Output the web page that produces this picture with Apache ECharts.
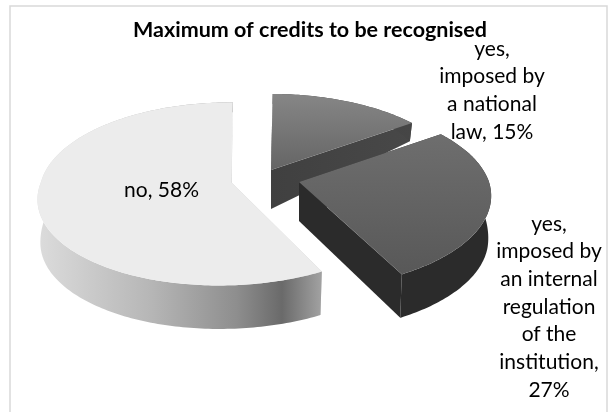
<!DOCTYPE html>
<html>
<head>
<meta charset="utf-8">
<style>html,body{margin:0;padding:0;background:#fff}#chart{width:608px;height:412px}</style>
<script src="https://cdn.jsdelivr.net/npm/echarts@6/dist/echarts.min.js"></script>
</head>
<body>
<div id="chart"></div>
<script>
// Share of institutions by type of cap on recognised credits
const titleText = 'Maximum of credits to be recognised';
const categories = ['yes,\nimposed by\na national\nlaw', 'yes,\nimposed by\nan internal\nregulation\nof the\ninstitution', 'no'];
const values = [15, 27, 58];
const valueSeparators = [', ', ',\n', ', '];

// Pie geometry and per-slice styling: each slice is exploded to its own anchor
const START_ANGLE = 0.6;
const FONT = 'Lato, "Open Sans", sans-serif';
const sliceStyle = [
  { ax: 271, ay: 170, rx: 190, ry: 89, k: 0.17, shear: 0, lx: 492, ly: 90.5,
    top: [[0, '#868686'], [1, '#656565']],
    wall: [[0, '#404040'], [1, '#464646']], cut: [[0, '#404040'], [1, '#484848']] },
  { ax: 299, ay: 182, rx: 190, ry: 90, k: 0.16, shear: 2, lx: 549, ly: 307,
    top: [[0, '#6e6e6e'], [1, '#585858']],
    wall: [[0, '#2b2b2b'], [1, '#2b2b2b']], cut: [[0, '#2b2b2b'], [1, '#2b2b2b']] },
  { ax: 231, ay: 182, rx: 190, ry: 90, k: 0.13, shear: 12, lx: 161.5, ly: 190.5,
    top: [[0, '#ececec'], [1, '#ececec']],
    wall: [[0, '#dcdcdc'], [0.4, '#b6b6b6'], [0.7, '#8e8e8e'], [0.86, '#6a6a6a'], [1, '#a2a2a2']],
    cut: [[0, '#cfcfcf'], [1, '#cfcfcf']] }
];
// Later entries paint over earlier ones
const drawOrder = [2, 0, 1];

function wallHeight(y) {
  return Math.min(43.5, Math.max(10, 39 - 24.7 * y - 19.7 * y * y));
}

function sliceAngles(index) {
  const total = values.reduce((a, b) => a + b, 0);
  const before = values.slice(0, index).reduce((a, b) => a + b, 0);
  return [START_ANGLE + (before / total) * 360, START_ANGLE + ((before + values[index]) / total) * 360];
}

function rimPoint(s, deg) {
  const t = (deg * Math.PI) / 180;
  const X = Math.sin(t), Y = Math.cos(t), w = 1 + s.k * Y;
  return { x: s.ax + (s.rx * X) / w + s.shear * Math.min(0, Y), y: s.ay - (s.ry * Y) / w, Y: Y };
}

function lowered(s, p) {
  return [s.ax + (p.x - s.ax) * 0.985, p.y + wallHeight(p.Y)];
}

function gradient(x2, y2, stops) {
  return {
    type: 'linear', x: 0, y: 0, x2: x2, y2: y2,
    colorStops: stops.map(([offset, color]) => ({ offset, color }))
  };
}

function renderSlice(params, api) {
  const index = api.value(0);
  const value = api.value(1);
  const s = sliceStyle[index];
  const [a0, a1] = sliceAngles(index);
  const rim = [];
  for (let d = a0; d < a1; d += 1) rim.push(rimPoint(s, d));
  rim.push(rimPoint(s, a1));

  const apex = [s.ax, s.ay];
  const apexLow = [s.ax, s.ay + wallHeight(0)];
  const topPts = rim.map(p => [p.x, p.y]);
  const lowPts = rim.map(p => lowered(s, p));
  const first = rim[0], last = rim[rim.length - 1];
  const poly = (points, fill) => ({ type: 'polygon', shape: { points }, style: { fill, stroke: 'none' } });

  const text = categories[index] + valueSeparators[index] + value + '%';
  return {
    type: 'group',
    children: [
      poly([[first.x, first.y], apex, apexLow, lowered(s, first)], gradient(1, 0, s.cut)),
      poly([apex, [last.x, last.y], lowered(s, last), apexLow], gradient(1, 0, s.cut)),
      poly(topPts.concat(lowPts.slice().reverse()), gradient(1, 0, s.wall)),
      poly([apex].concat(topPts), gradient(0, 1, s.top)),
      {
        type: 'text', z2: 10,
        style: {
          x: s.lx, y: s.ly, text: text, align: 'center', verticalAlign: 'middle',
          font: '21px ' + FONT, lineHeight: 27.7, fill: '#000'
        }
      }
    ]
  };
}

const chart = echarts.init(document.getElementById('chart'), null, { renderer: 'canvas' });
chart.setOption({
  animation: false,
  backgroundColor: '#ffffff',
  title: {
    text: titleText, left: 305, top: 14, textAlign: 'center',
    textStyle: { fontFamily: FONT, fontWeight: 'bold', fontSize: 21.5, color: '#000' }
  },
  graphic: [{
    type: 'rect', silent: true, z: -1,
    shape: { x: 10, y: 6, width: 597, height: 420 },
    style: { fill: '#fff', stroke: '#d9d9d9', lineWidth: 1.5 }
  }],
  series: [{
    type: 'custom',
    coordinateSystem: 'none',
    silent: true,
    renderItem: renderSlice,
    data: drawOrder.map(i => [i, values[i]])
  }]
});
</script>
</body>
</html>
